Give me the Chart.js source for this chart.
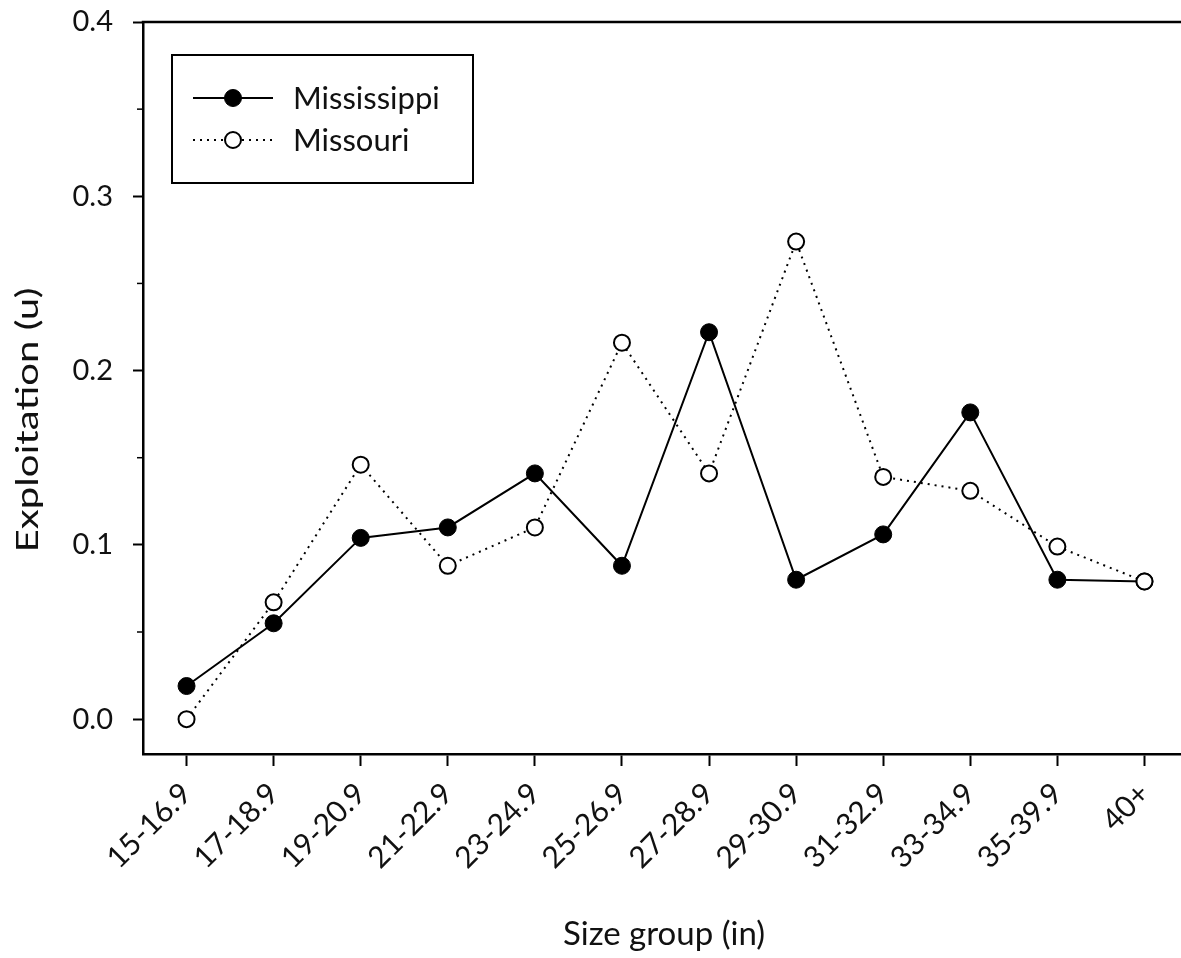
<!DOCTYPE html>
<html>
<head>
<meta charset="utf-8">
<script src="https://cdn.jsdelivr.net/npm/chart.js@4.4.1/dist/chart.umd.min.js"></script>
<style>
  html, body { margin: 0; padding: 0; background: #fff; overflow: hidden; }
  #wrap { width: 1198px; height: 958px; }
</style>
</head>
<body>
<div id="wrap"><canvas id="chart" width="1198" height="958"></canvas></div>
<script>
// values
const sizeGroups = ['15-16.9', '17-18.9', '19-20.9', '21-22.9', '23-24.9', '25-26.9',
                    '27-28.9', '29-30.9', '31-32.9', '33-34.9', '35-39.9', '40+'];
const mississippi = [0.019, 0.055, 0.104, 0.110, 0.141, 0.088, 0.222, 0.080, 0.106, 0.176, 0.080, 0.079];
const missouri    = [0.000, 0.067, 0.146, 0.088, 0.110, 0.216, 0.141, 0.274, 0.139, 0.131, 0.099, 0.079];
const yTicks = [0.0, 0.1, 0.2, 0.3, 0.4];
const yMinorTicks = [0.05, 0.15, 0.25, 0.35];
const yMin = -0.02;
const yMax = 0.4;

const FONT = 'Lato';
const INK = '#111';

// frame, minor ticks, titles and legend
const extras = {
    id: 'extras',
    afterDraw(chart) {
        const ctx = chart.ctx;
        const area = chart.chartArea;
        const y = chart.scales.y;
        ctx.save();
        ctx.strokeStyle = '#000';
        ctx.lineWidth = 2.5;
        ctx.beginPath();
        ctx.moveTo(area.left - 1.25, area.top);
        ctx.lineTo(area.right, area.top);
        ctx.lineTo(area.right, area.bottom);
        ctx.stroke();

        // minor ticks
        ctx.lineWidth = 1.5;
        yMinorTicks.forEach(v => {
            const py = y.getPixelForValue(v);
            ctx.beginPath();
            ctx.moveTo(area.left - 6, py);
            ctx.lineTo(area.left, py);
            ctx.stroke();
        });

        ctx.fillStyle = INK;
        // x title
        ctx.font = '33px ' + FONT;
        ctx.textAlign = 'center';
        ctx.textBaseline = 'alphabetic';
        ctx.fillText('Size group (in)', 664, 945);

        // y title (stretched along its length like the original)
        ctx.save();
        ctx.translate(38, 420);
        ctx.rotate(-Math.PI / 2);
        ctx.font = '30px ' + FONT;
        const w = ctx.measureText('Exploitation (u)').width;
        ctx.scale(265 / w, 1);
        ctx.textAlign = 'center';
        ctx.fillText('Exploitation (u)', 0, 0);
        ctx.restore();

        // legend
        const lx = 172, ly = 55, lw = 301, lh = 128;
        ctx.fillStyle = '#fff';
        ctx.fillRect(lx, ly, lw, lh);
        ctx.strokeStyle = '#000';
        ctx.lineWidth = 2;
        ctx.strokeRect(lx, ly, lw, lh);

        const rows = [
            { label: 'Mississippi', ds: chart.data.datasets[0], yy: 98, base: 109 },
            { label: 'Missouri', ds: chart.data.datasets[1], yy: 140, base: 151 }
        ];
        rows.forEach(r => {
            ctx.strokeStyle = '#000';
            ctx.lineWidth = r.ds.borderWidth;
            ctx.setLineDash(r.ds.borderDash || []);
            ctx.beginPath();
            ctx.moveTo(193, r.yy);
            ctx.lineTo(273, r.yy);
            ctx.stroke();
            ctx.setLineDash([]);
            ctx.beginPath();
            ctx.arc(233, r.yy, r.ds.pointRadius, 0, Math.PI * 2);
            ctx.fillStyle = r.ds.pointBackgroundColor;
            ctx.fill();
            ctx.lineWidth = r.ds.pointBorderWidth;
            ctx.stroke();
            ctx.fillStyle = INK;
            ctx.font = '31px ' + FONT;
            ctx.textAlign = 'left';
            ctx.fillText(r.label, 293, r.base);
        });
        ctx.restore();
    }
};

const ctx = document.getElementById('chart').getContext('2d');
new Chart(ctx, {
    type: 'line',
    data: {
        labels: sizeGroups,
        datasets: [
            {
                label: 'Mississippi',
                data: mississippi,
                borderColor: '#000',
                borderWidth: 2,
                pointRadius: 8.5,
                pointBackgroundColor: '#000',
                pointBorderColor: '#000',
                pointBorderWidth: 1,
                tension: 0,
                order: 1
            },
            {
                label: 'Missouri',
                data: missouri,
                borderColor: '#000',
                borderWidth: 2,
                borderDash: [2, 5],
                pointRadius: 8,
                pointBackgroundColor: '#fff',
                pointBorderColor: '#000',
                pointBorderWidth: 2,
                tension: 0,
                order: 0
            }
        ]
    },
    options: {
        responsive: false,
        animation: false,
        layout: { padding: { top: 22, right: 0, left: 0, bottom: 0 } },
        plugins: {
            legend: { display: false },
            tooltip: { enabled: false }
        },
        scales: {
            x: {
                type: 'category',
                offset: true,
                grid: {
                    display: true,
                    offset: false,
                    drawOnChartArea: false,
                    drawTicks: true,
                    tickLength: 12,
                    tickWidth: 2,
                    tickColor: '#000'
                },
                border: { display: true, color: '#000', width: 2.5 },
                ticks: {
                    autoSkip: false,
                    minRotation: 45,
                    maxRotation: 45,
                    padding: 10,
                    color: INK,
                    font: { family: FONT, size: 30 }
                },
                afterFit(scale) {
                    scale.height = 958 - 754;
                    scale.paddingLeft = 0;
                    scale.paddingRight = 0;
                }
            },
            y: {
                min: yMin,
                max: yMax,
                grid: {
                    display: true,
                    drawOnChartArea: false,
                    drawTicks: true,
                    tickLength: 10,
                    tickWidth: 2,
                    tickColor: '#000'
                },
                border: { display: true, color: '#000', width: 2.5 },
                afterBuildTicks(scale) {
                    scale.ticks = yTicks.map(v => ({ value: v }));
                },
                ticks: {
                    padding: 20,
                    color: INK,
                    font: { family: FONT, size: 29 },
                    callback: v => Number(v).toFixed(1)
                },
                afterFit(scale) {
                    scale.width = 143;
                    scale.paddingTop = 0;
                    scale.paddingBottom = 0;
                }
            }
        }
    },
    plugins: [extras]
});
</script>
</body>
</html>
